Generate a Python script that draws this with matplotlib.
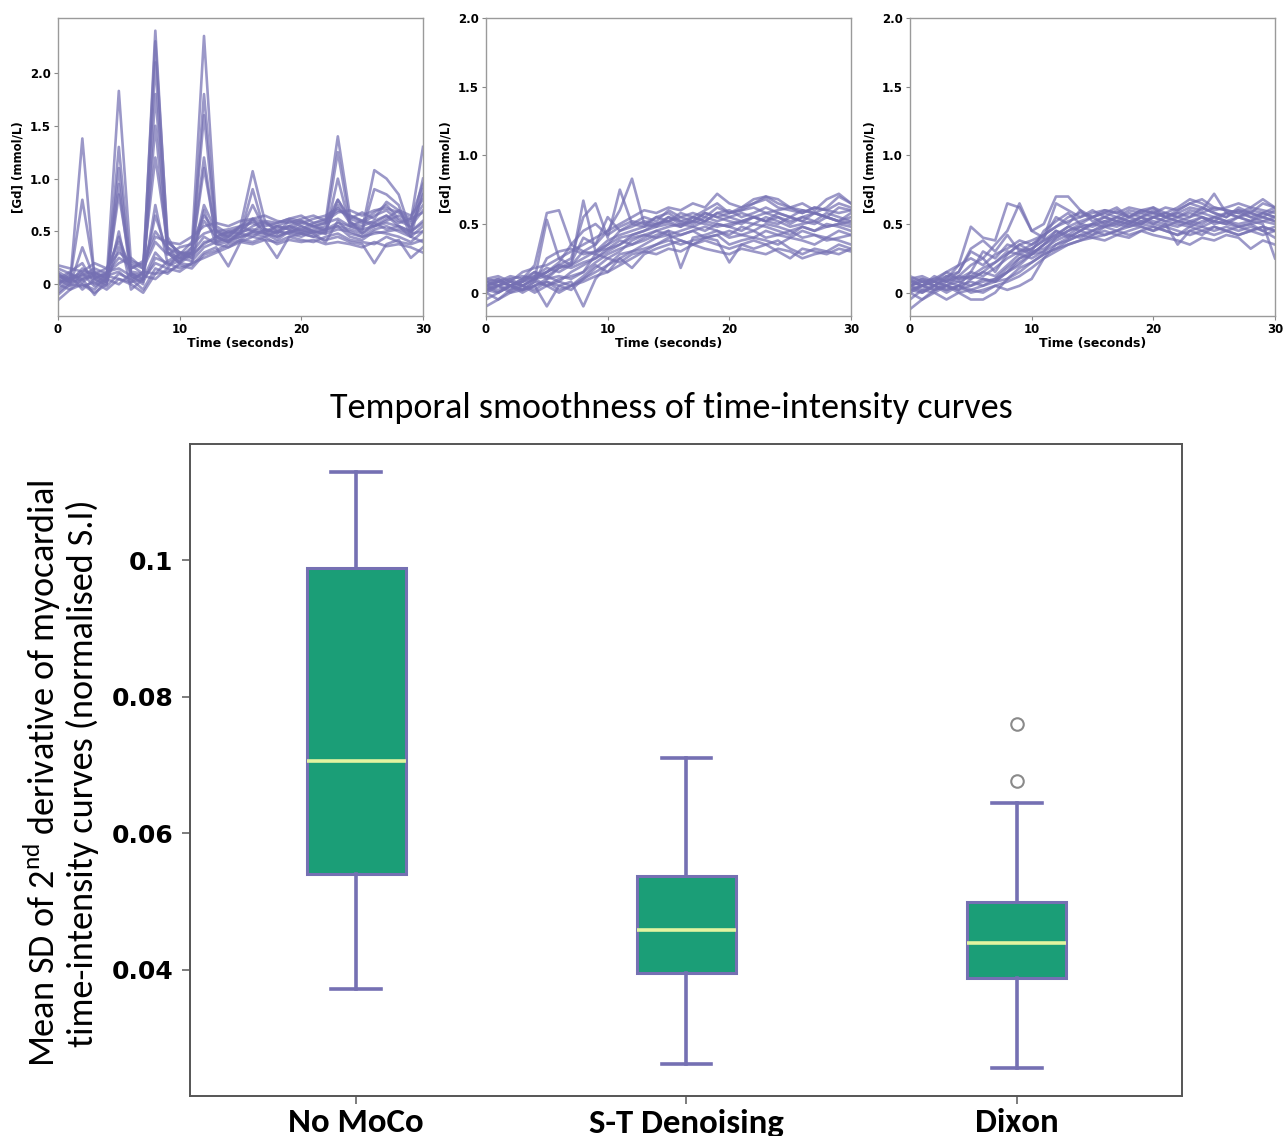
import matplotlib
matplotlib.use("Agg")
import matplotlib.pyplot as plt
from matplotlib import font_manager

# ---------------- data ----------------
time_s = list(range(31))

no_moco_curves = [
    [0.08,0.02,1.38,0.06,0.10,0.45,0.12,0.10,2.40,0.40,0.30,0.30,1.10,0.45,0.50,0.52,0.60,0.55,0.58,0.62,0.60,0.55,0.58,0.80,0.62,0.58,0.65,0.70,0.60,0.55,0.70],
    [0.02,0.05,0.80,0.10,0.05,1.83,0.20,0.15,2.30,0.45,0.25,0.35,2.35,0.55,0.48,0.55,1.07,0.60,0.50,0.55,0.52,0.58,0.60,1.40,0.65,0.60,0.55,0.60,0.65,0.60,1.30],
    [0.10,0.00,0.35,0.05,0.00,1.30,0.10,0.05,2.10,0.30,0.20,0.28,1.80,0.50,0.42,0.48,0.90,0.50,0.45,0.50,0.48,0.52,0.55,1.25,0.58,0.52,1.08,1.00,0.85,0.50,1.00],
    [-0.05,0.05,0.10,-0.02,0.05,1.10,0.08,0.00,1.80,0.35,0.22,0.30,1.60,0.45,0.40,0.50,0.75,0.52,0.50,0.48,0.55,0.50,0.48,1.00,0.55,0.50,0.90,0.85,0.75,0.45,0.90],
    [0.00,-0.05,0.05,0.08,0.02,0.95,0.05,0.10,1.50,0.30,0.25,0.30,1.20,0.40,0.45,0.48,0.62,0.48,0.55,0.52,0.58,0.55,0.50,0.80,0.60,0.48,0.55,0.62,0.70,0.52,0.85],
    [0.15,0.10,0.05,0.12,0.05,0.85,0.15,0.20,1.20,0.40,0.30,0.25,0.75,0.50,0.45,0.55,0.58,0.52,0.48,0.60,0.55,0.50,0.52,0.75,0.58,0.55,0.60,0.65,0.55,0.50,0.60],
    [-0.15,-0.05,0.00,-0.08,0.00,0.50,-0.05,0.05,0.75,0.20,0.15,0.20,0.70,0.38,0.35,0.42,0.50,0.48,0.45,0.50,0.48,0.45,0.50,0.55,0.45,0.42,0.50,0.48,0.45,0.40,0.50],
    [0.05,0.12,0.20,0.00,0.10,0.25,0.18,0.10,0.65,0.30,0.20,0.35,0.60,0.45,0.50,0.48,0.55,0.60,0.58,0.62,0.65,0.58,0.62,0.70,0.65,0.60,0.68,0.75,0.62,0.58,0.75],
    [0.12,0.05,0.08,0.15,0.10,0.20,0.25,0.15,0.40,0.28,0.35,0.38,0.48,0.52,0.45,0.55,0.50,0.58,0.52,0.55,0.60,0.55,0.58,0.62,0.55,0.60,0.58,0.65,0.58,0.62,0.68],
    [0.00,0.08,-0.05,0.05,-0.02,0.10,0.05,-0.05,0.15,0.10,0.20,0.18,0.30,0.35,0.17,0.40,0.45,0.42,0.40,0.45,0.42,0.40,0.45,0.48,0.42,0.40,0.38,0.45,0.40,0.38,0.42],
    [-0.08,0.02,0.05,-0.10,0.05,0.00,0.10,0.08,0.05,0.15,0.12,0.20,0.25,0.30,0.35,0.40,0.38,0.42,0.25,0.45,0.48,0.45,0.42,0.45,0.40,0.38,0.20,0.38,0.42,0.25,0.35],
    [0.18,0.15,0.12,0.20,0.15,0.30,0.22,0.18,0.45,0.40,0.38,0.45,0.55,0.58,0.55,0.60,0.62,0.65,0.60,0.58,0.62,0.65,0.60,0.68,0.70,0.65,0.70,0.72,0.68,0.62,0.95],
    [0.05,-0.02,0.10,0.05,0.12,0.15,0.08,0.02,0.25,0.20,0.25,0.22,0.35,0.40,0.42,0.45,0.48,0.45,0.50,0.48,0.45,0.50,0.48,0.52,0.50,0.45,0.48,0.50,0.52,0.48,0.50],
    [0.02,0.10,0.02,0.10,0.08,0.05,0.02,0.12,0.10,0.22,0.28,0.25,0.40,0.42,0.48,0.50,0.52,0.50,0.55,0.52,0.50,0.55,0.52,0.58,0.55,0.52,0.55,0.58,0.55,0.50,0.58],
    [0.10,0.02,0.15,0.08,0.02,0.35,0.10,0.05,0.30,0.18,0.22,0.30,0.45,0.38,0.40,0.45,0.50,0.48,0.42,0.50,0.52,0.48,0.40,0.60,0.48,0.45,0.52,0.55,0.50,0.45,0.40],
    [-0.10,0.00,-0.02,0.02,-0.05,0.05,0.00,-0.08,0.10,0.12,0.18,0.15,0.28,0.32,0.38,0.42,0.40,0.45,0.38,0.42,0.40,0.42,0.38,0.40,0.38,0.35,0.40,0.36,0.38,0.35,0.30],
    [0.08,0.05,0.12,0.10,0.15,0.40,0.15,0.22,0.50,0.35,0.28,0.40,0.65,0.50,0.52,0.55,0.62,0.58,0.55,0.60,0.58,0.62,0.65,0.72,0.62,0.68,0.62,0.78,0.70,0.65,0.80],
    [0.00,0.05,0.00,-0.05,0.08,0.12,0.02,0.05,0.20,0.15,0.30,0.28,0.38,0.45,0.40,0.48,0.45,0.52,0.48,0.55,0.50,0.48,0.52,0.55,0.52,0.48,0.58,0.52,0.55,0.45,0.55],
]

st_denoising_curves = [
    [0.05,0.08,0.05,0.10,0.20,0.58,0.60,0.35,0.30,0.28,0.35,0.40,0.42,0.45,0.50,0.52,0.48,0.55,0.52,0.58,0.55,0.52,0.55,0.58,0.55,0.52,0.55,0.58,0.55,0.52,0.55],
    [0.02,0.05,0.08,0.05,0.10,0.53,0.25,0.20,0.67,0.30,0.35,0.45,0.50,0.48,0.55,0.58,0.52,0.55,0.60,0.65,0.58,0.62,0.65,0.68,0.62,0.60,0.58,0.62,0.60,0.65,0.62],
    [0.08,0.10,0.05,0.08,0.12,0.15,0.20,0.25,0.55,0.65,0.40,0.75,0.50,0.55,0.52,0.60,0.55,0.58,0.55,0.62,0.58,0.60,0.65,0.70,0.65,0.62,0.60,0.58,0.62,0.70,0.65],
    [0.00,0.05,0.02,0.08,0.15,0.10,0.18,0.20,0.30,0.35,0.45,0.60,0.83,0.50,0.48,0.55,0.50,0.52,0.58,0.55,0.52,0.50,0.55,0.52,0.55,0.50,0.55,0.52,0.58,0.55,0.52],
    [-0.10,-0.05,0.00,0.02,0.05,-0.10,0.05,0.08,-0.10,0.10,0.20,0.25,0.30,0.32,0.35,0.38,0.35,0.38,0.40,0.42,0.35,0.38,0.40,0.38,0.35,0.40,0.38,0.35,0.40,0.38,0.35],
    [0.10,0.12,0.08,0.15,0.18,0.20,0.25,0.30,0.35,0.40,0.45,0.50,0.55,0.60,0.58,0.62,0.60,0.65,0.62,0.72,0.65,0.62,0.68,0.70,0.68,0.62,0.65,0.60,0.68,0.72,0.65],
    [0.05,0.00,0.05,0.02,0.08,0.05,0.10,0.12,0.15,0.22,0.28,0.32,0.35,0.38,0.42,0.45,0.18,0.40,0.42,0.45,0.40,0.42,0.45,0.40,0.42,0.45,0.40,0.42,0.38,0.40,0.42],
    [0.02,0.08,0.10,0.05,0.02,0.08,0.05,0.02,0.10,0.15,0.20,0.28,0.30,0.35,0.40,0.42,0.38,0.35,0.40,0.38,0.22,0.35,0.32,0.35,0.30,0.25,0.32,0.30,0.28,0.32,0.30],
    [0.05,0.02,0.05,0.08,0.10,0.12,0.08,0.15,0.20,0.25,0.30,0.35,0.40,0.42,0.45,0.48,0.50,0.48,0.52,0.50,0.48,0.52,0.50,0.55,0.52,0.48,0.50,0.52,0.48,0.50,0.52],
    [-0.05,0.00,0.05,0.00,0.05,0.08,0.02,0.05,0.10,0.18,0.25,0.22,0.28,0.30,0.35,0.40,0.42,0.45,0.40,0.42,0.45,0.42,0.40,0.45,0.42,0.40,0.45,0.42,0.40,0.45,0.42],
    [0.08,0.05,0.10,0.12,0.10,0.15,0.22,0.35,0.45,0.50,0.42,0.48,0.52,0.50,0.55,0.52,0.58,0.55,0.52,0.58,0.60,0.55,0.58,0.62,0.58,0.55,0.60,0.58,0.55,0.62,0.60],
    [0.05,0.10,0.05,0.02,0.08,0.25,0.30,0.32,0.28,0.30,0.32,0.38,0.35,0.40,0.45,0.42,0.45,0.48,0.45,0.50,0.48,0.45,0.50,0.48,0.45,0.42,0.48,0.45,0.50,0.48,0.45],
    [0.00,-0.05,0.02,0.05,0.00,0.05,0.08,0.05,0.12,0.20,0.15,0.25,0.18,0.28,0.32,0.35,0.38,0.35,0.38,0.35,0.32,0.35,0.38,0.35,0.38,0.32,0.28,0.32,0.30,0.35,0.32],
    [0.10,0.08,0.12,0.10,0.15,0.12,0.18,0.22,0.40,0.35,0.55,0.45,0.48,0.52,0.50,0.55,0.52,0.50,0.55,0.52,0.55,0.58,0.55,0.52,0.58,0.55,0.52,0.58,0.55,0.52,0.58],
    [0.02,0.05,0.00,0.05,0.10,0.05,0.00,0.05,0.08,0.12,0.15,0.20,0.25,0.30,0.28,0.32,0.30,0.35,0.32,0.30,0.28,0.32,0.30,0.28,0.32,0.30,0.25,0.28,0.30,0.28,0.32],
    [0.05,0.08,0.05,0.10,0.12,0.18,0.15,0.20,0.25,0.30,0.38,0.42,0.45,0.48,0.50,0.52,0.55,0.52,0.58,0.55,0.58,0.60,0.62,0.58,0.60,0.62,0.58,0.62,0.60,0.58,0.60],
    [0.02,0.00,0.05,0.02,0.05,0.10,0.12,0.10,0.15,0.28,0.25,0.30,0.38,0.42,0.40,0.45,0.42,0.45,0.48,0.45,0.42,0.48,0.45,0.50,0.48,0.45,0.48,0.45,0.48,0.50,0.48],
    [0.08,0.05,0.08,0.05,0.10,0.15,0.20,0.18,0.22,0.25,0.32,0.35,0.42,0.45,0.48,0.50,0.48,0.52,0.50,0.48,0.50,0.52,0.55,0.52,0.50,0.55,0.52,0.50,0.55,0.52,0.50],
]

dixon_curves = [
    [0.05,0.08,0.05,0.10,0.20,0.48,0.40,0.38,0.65,0.62,0.45,0.50,0.70,0.70,0.60,0.55,0.58,0.55,0.60,0.58,0.55,0.58,0.55,0.60,0.58,0.55,0.58,0.60,0.55,0.58,0.55],
    [0.02,0.05,0.08,0.12,0.15,0.30,0.25,0.35,0.45,0.65,0.45,0.40,0.65,0.60,0.55,0.60,0.55,0.52,0.58,0.55,0.60,0.55,0.58,0.62,0.60,0.72,0.58,0.55,0.60,0.58,0.62],
    [0.10,0.05,0.12,0.08,0.15,0.32,0.38,0.30,0.42,0.30,0.35,0.40,0.55,0.50,0.60,0.52,0.55,0.60,0.55,0.58,0.62,0.55,0.60,0.65,0.62,0.58,0.55,0.60,0.58,0.65,0.62],
    [-0.12,-0.05,0.00,-0.05,0.00,-0.05,-0.05,0.00,0.10,0.15,0.22,0.28,0.32,0.35,0.38,0.40,0.42,0.45,0.42,0.45,0.48,0.45,0.42,0.45,0.48,0.45,0.48,0.45,0.48,0.45,0.40],
    [0.00,0.05,0.02,0.05,0.08,0.05,0.10,0.08,0.15,0.22,0.28,0.35,0.45,0.40,0.45,0.50,0.48,0.52,0.50,0.55,0.52,0.50,0.48,0.52,0.55,0.50,0.52,0.48,0.50,0.52,0.50],
    [0.08,0.10,0.05,0.12,0.10,0.15,0.12,0.18,0.25,0.30,0.32,0.38,0.42,0.48,0.52,0.55,0.50,0.55,0.52,0.50,0.55,0.58,0.55,0.52,0.50,0.55,0.52,0.55,0.58,0.55,0.52],
    [0.05,0.00,0.05,0.02,0.05,0.00,0.02,0.05,0.02,0.05,0.10,0.25,0.35,0.40,0.45,0.42,0.48,0.45,0.50,0.48,0.45,0.50,0.35,0.45,0.42,0.48,0.45,0.42,0.45,0.48,0.45],
    [0.12,0.08,0.10,0.15,0.10,0.12,0.18,0.22,0.28,0.35,0.38,0.42,0.48,0.52,0.55,0.58,0.60,0.58,0.62,0.60,0.58,0.62,0.60,0.65,0.68,0.62,0.60,0.58,0.62,0.60,0.58],
    [0.02,0.05,0.08,0.05,0.02,0.05,0.08,0.10,0.18,0.25,0.30,0.32,0.38,0.42,0.40,0.45,0.42,0.45,0.48,0.50,0.48,0.45,0.42,0.48,0.45,0.42,0.45,0.48,0.45,0.42,0.45],
    [0.05,0.10,0.08,0.05,0.12,0.20,0.25,0.15,0.28,0.35,0.30,0.45,0.52,0.58,0.50,0.55,0.58,0.62,0.55,0.60,0.58,0.55,0.58,0.55,0.62,0.58,0.55,0.62,0.58,0.55,0.60],
    [0.00,-0.05,0.02,0.05,0.00,0.02,0.05,0.10,0.15,0.20,0.28,0.30,0.35,0.38,0.42,0.40,0.38,0.42,0.40,0.45,0.42,0.40,0.38,0.35,0.40,0.38,0.42,0.40,0.32,0.38,0.35],
    [0.08,0.05,0.10,0.08,0.12,0.10,0.15,0.12,0.20,0.28,0.25,0.30,0.40,0.45,0.48,0.50,0.52,0.50,0.55,0.52,0.50,0.55,0.52,0.50,0.55,0.52,0.50,0.55,0.52,0.50,0.25],
    [0.05,0.02,0.05,0.00,0.05,0.08,0.05,0.08,0.10,0.18,0.22,0.28,0.32,0.38,0.42,0.45,0.48,0.50,0.48,0.52,0.55,0.52,0.50,0.48,0.52,0.55,0.52,0.50,0.52,0.55,0.52],
    [0.10,0.12,0.08,0.15,0.20,0.25,0.20,0.28,0.32,0.38,0.35,0.42,0.48,0.55,0.58,0.55,0.60,0.58,0.55,0.60,0.62,0.58,0.62,0.68,0.65,0.60,0.62,0.65,0.62,0.68,0.62],
    [0.02,0.00,0.05,0.02,0.05,0.02,0.00,0.05,0.08,0.12,0.18,0.25,0.30,0.35,0.38,0.42,0.45,0.42,0.45,0.48,0.45,0.48,0.45,0.42,0.45,0.48,0.45,0.42,0.45,0.48,0.45],
    [0.05,0.08,0.05,0.10,0.08,0.12,0.10,0.08,0.15,0.25,0.28,0.35,0.40,0.45,0.50,0.48,0.52,0.55,0.52,0.50,0.55,0.52,0.55,0.58,0.55,0.52,0.58,0.55,0.52,0.58,0.55],
    [-0.05,0.02,0.00,0.05,0.02,0.10,0.15,0.22,0.30,0.28,0.32,0.38,0.45,0.42,0.48,0.45,0.50,0.48,0.52,0.55,0.50,0.48,0.52,0.50,0.48,0.52,0.50,0.48,0.50,0.45,0.48],
    [0.08,0.05,0.02,0.08,0.05,0.15,0.30,0.25,0.35,0.32,0.28,0.35,0.42,0.48,0.45,0.50,0.55,0.52,0.50,0.55,0.58,0.55,0.52,0.55,0.58,0.62,0.60,0.58,0.55,0.52,0.55],
]

panel_curves = [no_moco_curves, st_denoising_curves, dixon_curves]

# box plot statistics
box_labels = ["No MoCo", "S-T Denoising", "Dixon"]
whisker_low = [0.0372, 0.0262, 0.0256]
q1_values = [0.0540, 0.0395, 0.0388]
median_values = [0.0706, 0.0458, 0.0439]
q3_values = [0.0988, 0.0537, 0.0499]
whisker_high = [0.1129, 0.0710, 0.0644]
outlier_values = [[], [], [0.0760, 0.0676]]

# ---------------- styling ----------------
LINE_COLOR = "#7570b3"
BOX_FACE = "#1b9e77"
MEDIAN_COLOR = "#e3f4a0"

available = {f.name for f in font_manager.fontManager.ttflist}
narrow = "DejaVu Sans"
for cand in ["Carlito", "Liberation Sans Narrow", "Lato"]:
    if cand in available:
        narrow = cand
        break

fig = plt.figure(figsize=(12.87, 11.36), dpi=100)

top_lefts = [58 / 1287, 486 / 1287, 910 / 1287]
top_w = 365 / 1287
top_b = 1 - 316 / 1136
top_h = 298 / 1136
top_ylims = [(-0.30, 2.52), (-0.17, 2.0), (-0.17, 2.0)]

for left, curves, ylim in zip(top_lefts, panel_curves, top_ylims):
    ax = fig.add_axes([left, top_b, top_w, top_h])
    for c in curves:
        ax.plot(time_s, c, color=LINE_COLOR, lw=1.9, alpha=0.72)
    ax.set_xlim(0, 30)
    ax.set_ylim(*ylim)
    ax.set_xticks([0, 10, 20, 30])
    ax.set_yticks([0, 0.5, 1.0, 1.5, 2.0])
    ax.set_yticklabels(["0", "0.5", "1.0", "1.5", "2.0"])
    ax.tick_params(labelsize=8.5, length=3, width=0.8, colors="#888888",
                   labelcolor="black", pad=2)
    for lab in ax.get_xticklabels() + ax.get_yticklabels():
        lab.set_fontweight("bold")
    for sp in ax.spines.values():
        sp.set_color("#9a9a9a")
        sp.set_linewidth(1.0)
    ax.set_xlabel("Time (seconds)", fontsize=9, fontweight="bold", labelpad=1)
    ax.set_ylabel("[Gd] (mmol/L)", fontsize=8.5, fontweight="bold", labelpad=4)

# ---------------- box plot ----------------
bx = fig.add_axes([190 / 1287, 1 - 1096 / 1136, 992 / 1287, 652 / 1136])
stats = []
for i, lab in enumerate(box_labels):
    stats.append(dict(label=lab, whislo=whisker_low[i], q1=q1_values[i],
                      med=median_values[i], q3=q3_values[i],
                      whishi=whisker_high[i], fliers=outlier_values[i]))
bx.bxp(stats, positions=[1, 2, 3], widths=0.3, patch_artist=True,
       boxprops=dict(facecolor=BOX_FACE, edgecolor=LINE_COLOR, linewidth=2.2),
       whiskerprops=dict(color=LINE_COLOR, linewidth=2.6),
       capprops=dict(color=LINE_COLOR, linewidth=2.6),
       medianprops=dict(color=MEDIAN_COLOR, linewidth=2.6),
       flierprops=dict(marker="o", markerfacecolor="white",
                       markeredgecolor="#8a8a8a", markersize=9,
                       markeredgewidth=1.5))
bx.set_xlim(0.497, 3.5)
bx.set_ylim(0.0215, 0.117)
bx.set_yticks([0.04, 0.06, 0.08, 0.1])
bx.set_yticklabels(["0.04", "0.06", "0.08", "0.1"])
bx.tick_params(axis="y", labelsize=18, length=6, width=1.2, colors="#666666",
               labelcolor="black", pad=6)
bx.tick_params(axis="x", labelsize=25, length=6, width=1.2, colors="#666666",
               labelcolor="black", pad=3)
for lab in bx.get_yticklabels():
    lab.set_fontweight("bold")
for lab in bx.get_xticklabels():
    lab.set_fontweight("bold")
    lab.set_fontfamily(narrow)
for sp in bx.spines.values():
    sp.set_color("#555555")
    sp.set_linewidth(1.4)

fig.text(671 / 1287, 1 - 408 / 1136, "Temporal smoothness of time-intensity curves",
         ha="center", va="center", fontsize=26, family=narrow)
fig.text(42 / 1287, 1 - 773 / 1136,
         "Mean SD of 2$^{\\mathregular{nd}}$ derivative of myocardial",
         ha="center", va="center", rotation=90, fontsize=26, family=narrow)
fig.text(82 / 1287, 1 - 773 / 1136,
         "time-intensity curves (normalised S.I)",
         ha="center", va="center", rotation=90, fontsize=26, family=narrow)

fig.savefig("out.png", dpi=100)
